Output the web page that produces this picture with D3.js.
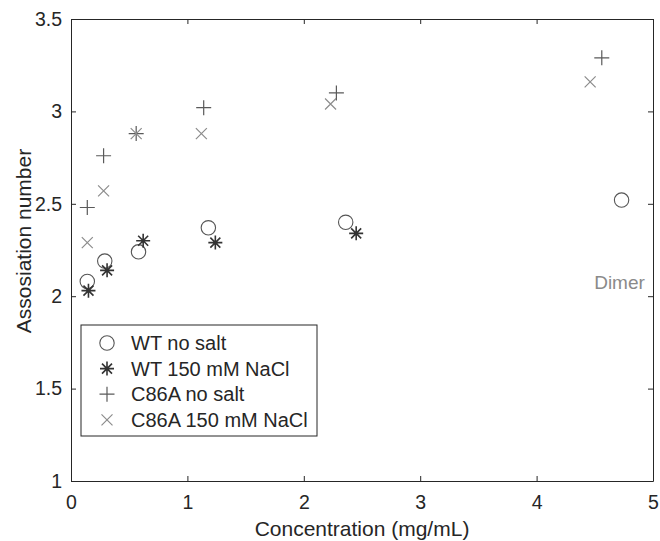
<!DOCTYPE html>
<html>
<head>
<meta charset="utf-8">
<script src="https://cdn.jsdelivr.net/npm/d3@7"></script>
<style>
  html, body { margin: 0; padding: 0; background: #fff; }
  svg { display: block; font-family: "Liberation Sans", Arial, sans-serif; }
</style>
</head>
<body>
<svg id="chart" width="660" height="541"></svg>
<script>
// Association number versus protein concentration
const wtNoSaltX   = [0.14, 0.29, 0.58, 1.18, 2.36, 4.73];
const wtNoSaltY   = [2.08, 2.19, 2.24, 2.37, 2.40, 2.52];
const wtSaltX     = [0.15, 0.31, 0.62, 1.24, 2.45];
const wtSaltY     = [2.03, 2.14, 2.30, 2.29, 2.34];
const c86aNoSaltX = [0.14, 0.28, 0.56, 1.14, 2.28, 4.56];
const c86aNoSaltY = [2.48, 2.76, 2.88, 3.02, 3.10, 3.29];
const c86aSaltX   = [0.14, 0.28, 0.56, 1.12, 2.23, 4.46];
const c86aSaltY   = [2.29, 2.57, 2.88, 2.88, 3.04, 3.16];

const xTicks = [0, 1, 2, 3, 4, 5];
const yTicks = [1, 1.5, 2, 2.5, 3, 3.5];
const seriesNames = ["WT no salt", "WT 150 mM NaCl", "C86A no salt", "C86A 150 mM NaCl"];

const svg = d3.select("#chart");
const m = { left: 71, right: 653, top: 19, bottom: 481 };
const ink = "#262626";

const x = d3.scaleLinear().domain([0, 5]).range([m.left, m.right]);
const y = d3.scaleLinear().domain([1, 3.5]).range([m.bottom, m.top]);

// Box frame with inward ticks on all four sides
function styleAxis(g) {
  g.selectAll(".domain").attr("stroke", ink).attr("stroke-width", 1);
  g.selectAll(".tick line").attr("stroke", ink);
  g.selectAll(".tick text").attr("fill", ink).style("font-size", "19.5px")
    .style("font-family", "'Liberation Sans', Arial, sans-serif");
}
svg.append("g").attr("transform", `translate(0,${m.bottom})`)
  .call(d3.axisBottom(x).tickValues(xTicks).tickSizeInner(-5).tickSizeOuter(0)
    .tickPadding(14).tickFormat(d => String(d)))
  .call(styleAxis);
svg.append("g").attr("transform", `translate(0,${m.top})`)
  .call(d3.axisTop(x).tickValues(xTicks).tickSizeInner(-5).tickSizeOuter(0).tickFormat(""))
  .call(styleAxis);
svg.append("g").attr("transform", `translate(${m.left},0)`)
  .call(d3.axisLeft(y).tickValues(yTicks).tickSizeInner(-5).tickSizeOuter(0)
    .tickPadding(9).tickFormat(d => String(d)))
  .call(styleAxis);
svg.append("g").attr("transform", `translate(${m.right},0)`)
  .call(d3.axisRight(y).tickValues(yTicks).tickSizeInner(-5).tickSizeOuter(0).tickFormat(""))
  .call(styleAxis);

// Axis titles
svg.append("text").attr("x", (m.left + m.right) / 2).attr("y", 536)
  .attr("text-anchor", "middle").attr("fill", ink).style("font-size", "21px")
  .text("Concentration (mg/mL)");
svg.append("text")
  .attr("transform", "translate(31,241) rotate(-90)")
  .attr("text-anchor", "middle").attr("fill", ink).style("font-size", "21px")
  .text("Assosiation number");

// Marker drawers
const markers = {
  circle: (g, color) => g.append("circle").attr("r", 7.2)
    .attr("fill", "none").attr("stroke", color).attr("stroke-width", 1.1),
  asterisk: (g, color) => {
    const s = 7, d = 5;
    const p = `M${-s},0L${s},0M0,${-s}L0,${s}M${-d},${-d}L${d},${d}M${-d},${d}L${d},${-d}`;
    g.append("path").attr("d", p).attr("fill", "none").attr("stroke", color).attr("stroke-width", 1.6);
  },
  plus: (g, color) => {
    const s = 7.5;
    g.append("path").attr("d", `M${-s},0L${s},0M0,${-s}L0,${s}`)
      .attr("fill", "none").attr("stroke", color).attr("stroke-width", 1.2);
  },
  cross: (g, color) => {
    const s = 5.5;
    g.append("path").attr("d", `M${-s},${-s}L${s},${s}M${-s},${s}L${s},${-s}`)
      .attr("fill", "none").attr("stroke", color).attr("stroke-width", 1.2);
  }
};

const series = [
  { name: seriesNames[0], xs: wtNoSaltX,   ys: wtNoSaltY,   shape: "circle",   color: "#555555" },
  { name: seriesNames[1], xs: wtSaltX,     ys: wtSaltY,     shape: "asterisk", color: "#333333" },
  { name: seriesNames[2], xs: c86aNoSaltX, ys: c86aNoSaltY, shape: "plus",     color: "#5a5a5a" },
  { name: seriesNames[3], xs: c86aSaltX,   ys: c86aSaltY,   shape: "cross",    color: "#8c8c8c" }
];

series.forEach(s => {
  const layer = svg.append("g");
  s.xs.forEach((xv, i) => {
    const g = layer.append("g").attr("transform", `translate(${x(xv)},${y(s.ys[i])})`);
    markers[s.shape](g, s.color);
  });
});

// Dimer annotation
svg.append("text").attr("x", x(4.93)).attr("y", y(2.04))
  .attr("text-anchor", "end").attr("fill", "#8a8a8a").style("font-size", "19px")
  .text("Dimer");

// Legend
const lg = svg.append("g");
lg.append("rect").attr("x", 81).attr("y", 325).attr("width", 236).attr("height", 111)
  .attr("fill", "#fff").attr("stroke", ink).attr("stroke-width", 1);
series.forEach((s, i) => {
  const cy = 343 + i * 25.6;
  const g = lg.append("g").attr("transform", `translate(107,${cy})`);
  markers[s.shape](g, s.color);
  lg.append("text").attr("x", 131).attr("y", cy + 7).attr("fill", ink)
    .style("font-size", "20px").text(s.name);
});
</script>
</body>
</html>
